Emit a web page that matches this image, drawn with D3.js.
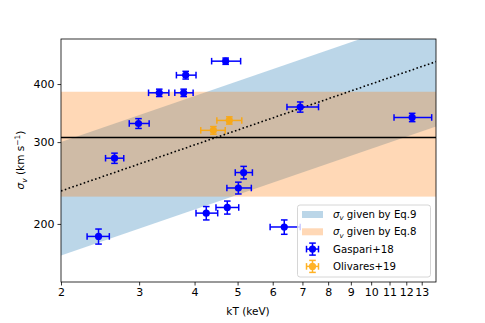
<!DOCTYPE html>
<html>
<head>
<meta charset="utf-8">
<script src="https://cdn.jsdelivr.net/npm/d3@7"></script>
<style>
  body { margin: 0; background: #fff; }
  text { font-family: "DejaVu Sans", sans-serif; fill: #000; }
</style>
</head>
<body>
<svg id="chart" width="485" height="323"></svg>
<script>
// Gaspari+18 points
var gKT    = [4.70, 3.82, 3.33, 3.78, 2.99, 2.64, 6.92, 12.37, 5.16, 5.02, 4.74, 4.25, 2.43, 6.37];
var gKTlo  = [4.37, 3.64, 3.15, 3.61, 2.85, 2.52, 6.46, 11.26, 4.94, 4.73, 4.47, 4.03, 2.29, 5.92];
var gKThi  = [5.08, 4.03, 3.50, 3.97, 3.16, 2.77, 7.61, 13.69, 5.40, 5.37, 5.03, 4.51, 2.57, 6.92];
var gSig   = [448, 418, 383, 383, 329, 277, 357, 339, 258, 239, 217, 211, 188, 197];
var gSigErr = [7, 8, 7, 7, 8, 7, 9, 7, 8, 7, 7, 7, 7, 7];

// Olivares+19 points
var oKT    = [4.79, 4.41];
var oKTlo  = [4.49, 4.13];
var oKThi  = [5.11, 4.69];
var oSig   = [334, 318];
var oSigErr = [6, 6];

// Eq.9 band (power law, straight in log-log) and its central dotted line
var eq9KT  = [2, 14];
var eq9Lo  = [171, 324];
var eq9Hi  = [300, 569];
var eq9Mid = [235.5, 447];

// Eq.8 band (constant)
var eq8Lo = 229, eq8Hi = 385, eq8Mid = 307;

var xTicks = [2, 3, 4, 5, 6, 7, 8, 9, 10, 11, 12, 13];
var yTicks = [200, 300, 400];

var plotL = 61, plotR = 436, plotT = 39, plotB = 282;

var svg = d3.select("#chart");

var xScale = d3.scaleLog().domain([2, 14]).range([plotL, plotR]);
var yScale = d3.scaleLog().domain([150, 500]).range([plotB, plotT]);

svg.append("defs").append("clipPath").attr("id", "clip")
    .append("rect").attr("x", plotL).attr("y", plotT)
    .attr("width", plotR - plotL).attr("height", plotB - plotT);

var plot = svg.append("g").attr("clip-path", "url(#clip)");

// Eq.9 band
var eq9Data = eq9KT.map(function(k, i){ return {kT: k, lo: eq9Lo[i], hi: eq9Hi[i], mid: eq9Mid[i]}; });
plot.append("path")
    .datum(eq9Data)
    .attr("fill", "#1f77b4").attr("fill-opacity", 0.3)
    .attr("d", d3.area()
        .x(function(d){ return xScale(d.kT); })
        .y0(function(d){ return yScale(d.lo); })
        .y1(function(d){ return yScale(d.hi); }));

// Eq.8 band
plot.append("rect")
    .attr("x", xScale(2)).attr("width", xScale(14) - xScale(2))
    .attr("y", yScale(eq8Hi)).attr("height", yScale(eq8Lo) - yScale(eq8Hi))
    .attr("fill", "#ff7f0e").attr("fill-opacity", 0.3);

// Eq.8 centre line
plot.append("line")
    .attr("x1", xScale(2)).attr("x2", xScale(14))
    .attr("y1", yScale(eq8Mid)).attr("y2", yScale(eq8Mid))
    .attr("stroke", "#000").attr("stroke-width", 1.6);

// Eq.9 centre line, dotted
plot.append("path")
    .datum(eq9Data)
    .attr("fill", "none").attr("stroke", "#000")
    .attr("stroke-width", 1.6).attr("stroke-dasharray", "1.6,2.4")
    .attr("d", d3.line()
        .x(function(d){ return xScale(d.kT); })
        .y(function(d){ return yScale(d.mid); }));

function drawErrorbars(kt, lo, hi, sig, err, color, opacity){
    var pts = kt.map(function(k, i){ return {kT: k, lo: lo[i], hi: hi[i], s: sig[i], e: err[i]}; });
    var g = plot.append("g").attr("opacity", opacity);
    var cap = 3.3;
    pts.forEach(function(d){
        var cx = xScale(d.kT), cy = yScale(d.s);
        var x0 = xScale(d.lo), x1 = xScale(d.hi);
        var y0 = yScale(d.s - d.e), y1 = yScale(d.s + d.e);
        var pg = g.append("g").attr("stroke", color).attr("stroke-width", 1.5);
        pg.append("line").attr("x1", x0).attr("x2", x1).attr("y1", cy).attr("y2", cy);
        pg.append("line").attr("x1", cx).attr("x2", cx).attr("y1", y0).attr("y2", y1);
        pg.append("line").attr("x1", x0).attr("x2", x0).attr("y1", cy - cap).attr("y2", cy + cap);
        pg.append("line").attr("x1", x1).attr("x2", x1).attr("y1", cy - cap).attr("y2", cy + cap);
        pg.append("line").attr("x1", cx - cap).attr("x2", cx + cap).attr("y1", y0).attr("y2", y0);
        pg.append("line").attr("x1", cx - cap).attr("x2", cx + cap).attr("y1", y1).attr("y2", y1);
        g.append("circle").attr("cx", cx).attr("cy", cy).attr("r", 3.6).attr("fill", color);
    });
}

drawErrorbars(gKT, gKTlo, gKThi, gSig, gSigErr, "#0000ff", 1);
drawErrorbars(oKT, oKTlo, oKThi, oSig, oSigErr, "#ffa500", 0.85);

// axes
var xAxis = svg.append("g")
    .attr("transform", "translate(0," + plotB + ")")
    .call(d3.axisBottom(xScale).tickValues(xTicks).tickFormat(d3.format("d")).tickSize(3.5).tickPadding(3));
var yAxis = svg.append("g")
    .attr("transform", "translate(" + plotL + ",0)")
    .call(d3.axisLeft(yScale).tickValues(yTicks).tickFormat(d3.format("d")).tickSize(3.5).tickPadding(3));
[xAxis, yAxis].forEach(function(a){
    a.select(".domain").remove();
    a.selectAll("text").attr("font-size", "11px").attr("font-family", "DejaVu Sans");
    a.selectAll("line").attr("stroke", "#000").attr("stroke-width", 0.8);
});

// frame
svg.append("rect")
    .attr("x", plotL).attr("y", plotT)
    .attr("width", plotR - plotL).attr("height", plotB - plotT)
    .attr("fill", "none").attr("stroke", "#000").attr("stroke-width", 0.8);

// labels
svg.append("text")
    .attr("x", 248).attr("y", 315)
    .attr("text-anchor", "middle").attr("font-size", "10.5px")
    .text("kT (keV)");

var yl = svg.append("text")
    .attr("transform", "translate(24,160) rotate(-90)")
    .attr("text-anchor", "middle").attr("font-size", "10.5px");
yl.append("tspan").attr("font-style", "italic").text("σ");
yl.append("tspan").attr("font-style", "italic").attr("font-size", "7.5px").attr("dy", 2.5).text("v");
yl.append("tspan").attr("dy", -2.5).text(" (km s");
yl.append("tspan").attr("font-size", "7.5px").attr("dy", -4).text("−1");
yl.append("tspan").attr("dy", 4).text(")");

// legend
var legendLabels = ["given by Eq.9", "given by Eq.8", "Gaspari+18", "Olivares+19"];
var legendColors = ["#1f77b4", "#ff7f0e", "#0000ff", "#ffa500"];
var lg = svg.append("g");
lg.append("rect")
    .attr("x", 297.5).attr("y", 205).attr("width", 133).attr("height", 72)
    .attr("rx", 2.5).attr("fill", "#fff").attr("fill-opacity", 0.8)
    .attr("stroke", "#cccccc").attr("stroke-width", 0.8);

legendLabels.forEach(function(lab, i){
    var cy = 214.5 + i * 17.3;
    if (i < 2) {
        lg.append("rect").attr("x", 302).attr("y", cy - 3.5).attr("width", 21).attr("height", 7)
            .attr("fill", legendColors[i]).attr("fill-opacity", 0.3);
    } else {
        var cx = 312.5, cap = 3.3;
        var h = lg.append("g").attr("stroke", legendColors[i]).attr("stroke-width", 1.5)
            .attr("opacity", i == 3 ? 0.85 : 1);
        h.append("line").attr("x1", cx - 6).attr("x2", cx + 6).attr("y1", cy).attr("y2", cy);
        h.append("line").attr("x1", cx).attr("x2", cx).attr("y1", cy - 6).attr("y2", cy + 6);
        h.append("line").attr("x1", cx - 6).attr("x2", cx - 6).attr("y1", cy - cap).attr("y2", cy + cap);
        h.append("line").attr("x1", cx + 6).attr("x2", cx + 6).attr("y1", cy - cap).attr("y2", cy + cap);
        h.append("line").attr("x1", cx - cap).attr("x2", cx + cap).attr("y1", cy - 6).attr("y2", cy - 6);
        h.append("line").attr("x1", cx - cap).attr("x2", cx + cap).attr("y1", cy + 6).attr("y2", cy + 6);
        h.append("circle").attr("cx", cx).attr("cy", cy).attr("r", 3.6).attr("fill", legendColors[i]).attr("stroke", "none");
    }
    var t = lg.append("text").attr("x", 333).attr("y", cy + 3.6).attr("font-size", "10.2px");
    if (i < 2) {
        t.append("tspan").attr("font-style", "italic").text("σ");
        t.append("tspan").attr("font-style", "italic").attr("font-size", "7px").attr("dy", 2.2).text("v");
        t.append("tspan").attr("dy", -2.2).text(" " + lab);
    } else {
        t.text(lab);
    }
});
</script>
</body>
</html>
